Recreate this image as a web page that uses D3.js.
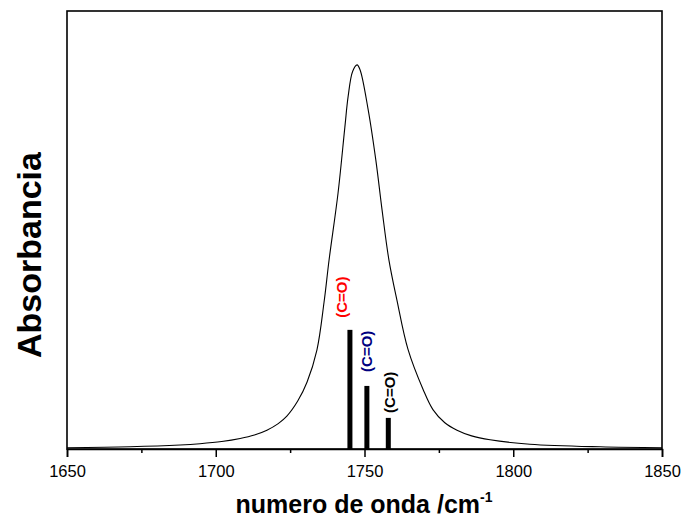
<!DOCTYPE html>
<html>
<head>
<meta charset="utf-8">
<script src="https://cdn.jsdelivr.net/npm/d3@7"></script>
<style>
  body { margin: 0; background: #fff; }
  svg { display: block; font-family: "Liberation Sans", Arial, sans-serif; }
  .axis path, .axis line { stroke: #000; }
  .axis text { font-size: 16.5px; fill: #000; font-family: "Liberation Sans", Arial, sans-serif; }
</style>
</head>
<body>
<svg id="chart" width="682" height="518"></svg>
<script>
// spectrum (wavenumber, absorbance)
var waveNumbers = [1650, 1671.2, 1688, 1694.7, 1702, 1708.2, 1713, 1717.2, 1721, 1723.9, 1727.6, 1730.7,
  1734, 1736.4, 1738.1, 1741.1, 1743.4, 1744.5, 1746, 1747.5, 1748.5, 1751.2, 1753.8, 1755.9,
  1758.2, 1760.9, 1764.6, 1769.7, 1773, 1777, 1781.1, 1786, 1792.2, 1805.6, 1829.2, 1850];
var absorbance = [0.003, 0.005, 0.009, 0.012, 0.017, 0.024, 0.032, 0.043, 0.058, 0.075, 0.11, 0.153,
  0.226, 0.335, 0.432, 0.584, 0.735, 0.805, 0.862, 0.877, 0.866, 0.776, 0.66, 0.546,
  0.432, 0.34, 0.228, 0.136, 0.09, 0.06, 0.043, 0.03, 0.021, 0.011, 0.005, 0.003];

// calculated C=O stick bands
var bandPos = [1745.1, 1750.8, 1758.0];
var bandInt = [0.272, 0.144, 0.071];
var bandLabels = ['(C=O)', '(C=O)', '(C=O)'];
var bandColors = ['#ff0000', '#000080', '#000000'];

var majorTicks = [1650, 1700, 1750, 1800, 1850];
var minorTicks = [1675, 1725, 1775, 1825];

var svg = d3.select('#chart');
var margin = {left: 67, right: 20, top: 11, bottom: 69};
var w = 682 - margin.left - margin.right;
var h = 518 - margin.top - margin.bottom;

var x = d3.scaleLinear().domain([1650, 1850]).range([0, w]);
var y = d3.scaleLinear().domain([0, 1]).range([h, 0]);

var g = svg.append('g').attr('transform', 'translate(' + margin.left + ',' + margin.top + ')');

// spectrum
var line = d3.line()
  .x(function(d) { return x(d[0]); })
  .y(function(d) { return y(d[1]); })
  .curve(d3.curveCatmullRom.alpha(0.5));

g.append('path')
  .datum(d3.zip(waveNumbers, absorbance))
  .attr('fill', 'none')
  .attr('stroke', '#000')
  .attr('stroke-width', 1.1)
  .attr('d', line);

// sticks
g.selectAll('rect.band')
  .data(bandPos)
  .enter().append('rect')
  .attr('class', 'band')
  .attr('x', function(d) { return x(d) - 2.5; })
  .attr('y', function(d, i) { return y(bandInt[i]); })
  .attr('width', 5)
  .attr('height', function(d, i) { return y(0) - y(bandInt[i]); })
  .attr('fill', '#000');

// label nudges (px) so they sit like in the source
var labelDx = [-8, 0, 1];
var labelGap = [12, 14, 5];
g.selectAll('text.band')
  .data(bandPos)
  .enter().append('text')
  .attr('class', 'band')
  .attr('transform', function(d, i) {
    var tx = x(d) + labelDx[i] + 5.5;
    var ty = y(bandInt[i]) - labelGap[i];
    return 'translate(' + tx + ',' + ty + ') rotate(-90)';
  })
  .attr('font-size', 15)
  .attr('font-weight', 'bold')
  .attr('fill', function(d, i) { return bandColors[i]; })
  .text(function(d, i) { return bandLabels[i]; });

// frame
g.append('rect')
  .attr('width', w).attr('height', h)
  .attr('fill', 'none')
  .attr('stroke', '#000')
  .attr('stroke-width', 1.6);

// bottom axis
var xAxis = g.append('g')
  .attr('class', 'axis')
  .attr('transform', 'translate(0,' + h + ')')
  .call(d3.axisBottom(x).tickValues(majorTicks).tickSize(8).tickPadding(8).tickFormat(d3.format('d')));
xAxis.select('.domain').attr('stroke-width', 1.6);
xAxis.selectAll('line').attr('stroke-width', 1.5);

var xMinor = g.append('g')
  .attr('class', 'axis')
  .attr('transform', 'translate(0,' + h + ')')
  .call(d3.axisBottom(x).tickValues(minorTicks).tickSize(4).tickFormat(''));
xMinor.select('.domain').remove();
xMinor.selectAll('line').attr('stroke-width', 1.5);

// titles
var xt = svg.append('text')
  .attr('x', 364)
  .attr('y', 513)
  .attr('text-anchor', 'middle')
  .attr('font-size', 25)
  .attr('font-weight', 'bold')
  .text('numero de onda /cm');
xt.append('tspan')
  .attr('font-size', 14)
  .attr('dy', -11)
  .text('-1');

svg.append('text')
  .attr('transform', 'translate(41,255) rotate(-90)')
  .attr('text-anchor', 'middle')
  .attr('font-size', 34)
  .attr('font-weight', 'bold')
  .text('Absorbancia');
</script>
</body>
</html>
